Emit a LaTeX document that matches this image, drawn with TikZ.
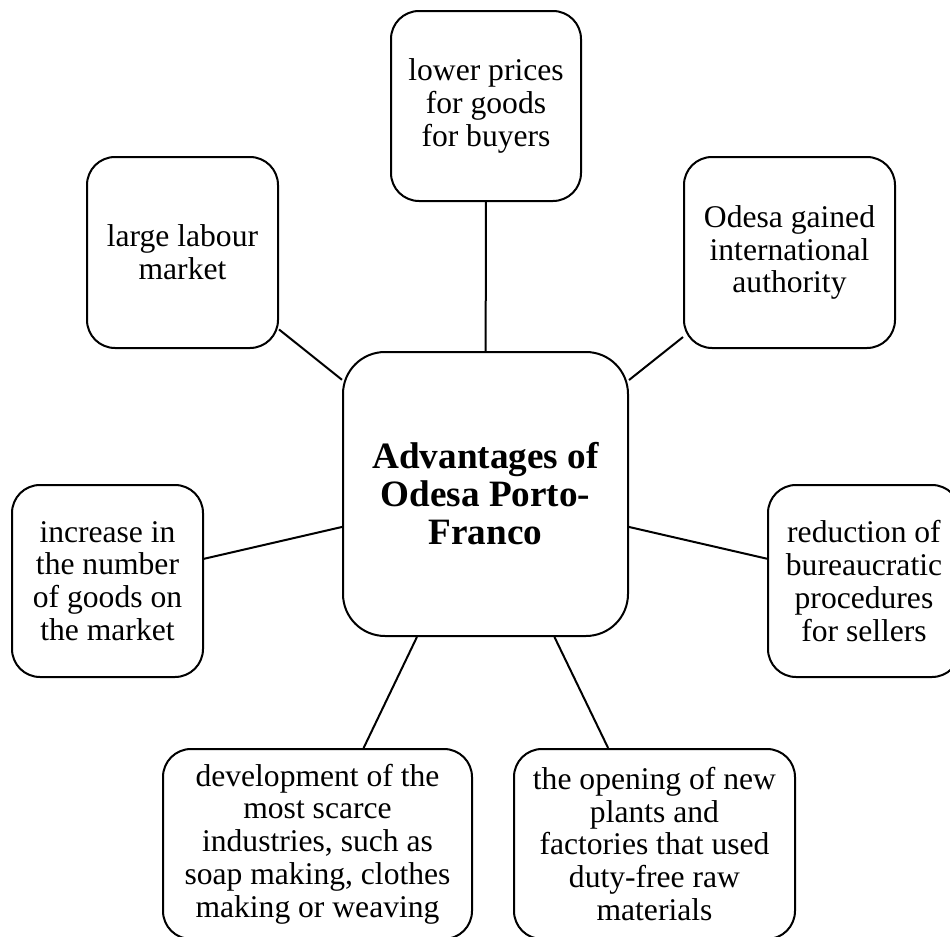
\documentclass[tikz,border=0pt]{standalone}
\usepackage{fontspec}
\setmainfont{Liberation Serif}
\begin{document}
\begin{tikzpicture}[x=0.5pt,y=-0.5pt,
  bubble/.style={draw,line width=1pt,rounded corners=14pt,inner sep=0pt,align=center,font=\fontsize{15.8}{16.4}\selectfont},
  hub/.style={draw,line width=1pt,rounded corners=21pt,inner sep=0pt,align=center,font=\fontsize{18.6}{19}\selectfont\bfseries,minimum width=142.5pt,minimum height=142pt},
  spoke/.style={line width=1pt}]
\useasboundingbox (0,0) rectangle (950,937);
\clip (0,0) rectangle (950,937);
% centre
\node[hub] (ctr) at (485.5,494) {Advantages of\\ Odesa Porto-\\ Franco};
% advantages around it
\node[bubble,minimum width=95pt,minimum height=95pt] (prices) at (486,106) {lower prices\\ for goods\\ for buyers};
\node[bubble,minimum width=95.5pt,minimum height=95.5pt] (labour) at (182.5,252.5) {large labour\\ market};
\node[bubble,minimum width=105.5pt,minimum height=95.5pt] (authority) at (789.5,252.5) {Odesa gained\\ international\\ authority};
\node[bubble,minimum width=95.5pt,minimum height=96pt] (goods) at (107.5,581) {increase in\\ the number\\ of goods on\\ the market};
\node[bubble,minimum width=96pt,minimum height=96pt] (bureau) at (864,581) {reduction of\\ bureaucratic\\ procedures\\ for sellers};
\node[bubble,minimum width=154.5pt,minimum height=95pt] (industry) at (317.5,844) {development of the\\ most scarce\\ industries, such as\\ soap making, clothes\\ making or weaving};
\node[bubble,minimum width=140.5pt,minimum height=95pt] (plants) at (654.5,844) {the opening of new\\ plants and\\ factories that used\\ duty-free raw\\ materials};
% spokes
\draw[spoke] (prices) -- (ctr);
\draw[spoke] (labour) -- (ctr);
\draw[spoke] (authority) -- (ctr);
\draw[spoke] (goods) -- (ctr);
\draw[spoke] (bureau) -- (ctr);
\draw[spoke] (industry) -- (ctr);
\draw[spoke] (plants) -- (ctr);
\end{tikzpicture}
\end{document}
